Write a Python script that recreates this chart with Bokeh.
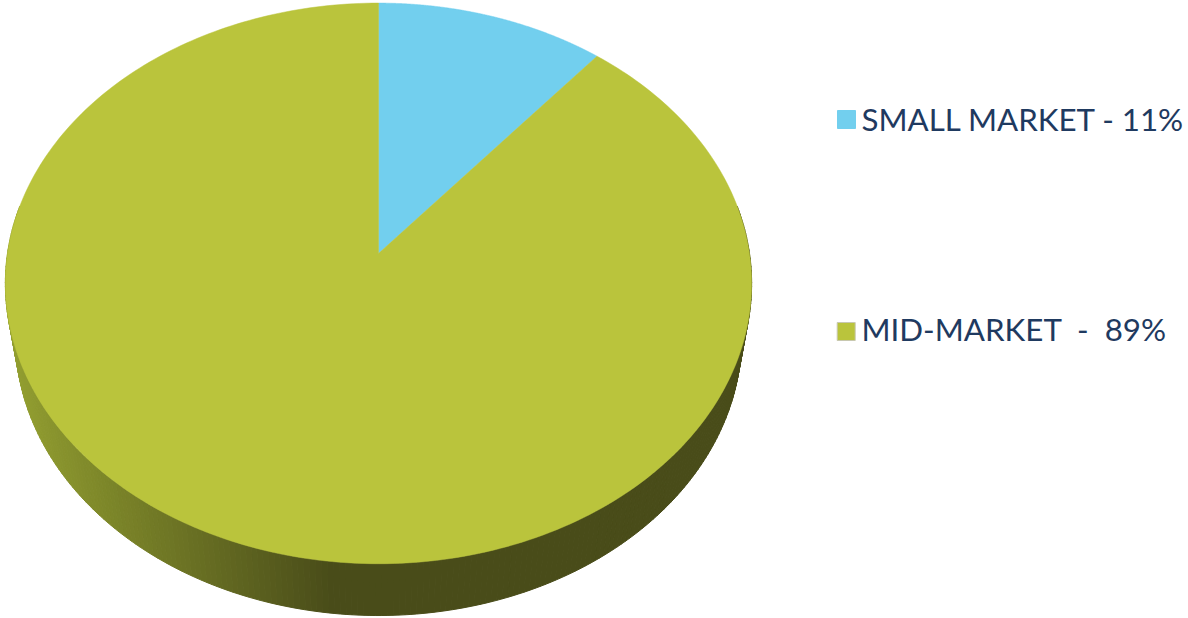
import numpy as np
from bokeh.plotting import figure
from bokeh.models import Range1d
from bokeh.core.properties import value
from bokeh.embed import file_html
from bokeh.resources import INLINE

# ---- data ----
categories = ["SMALL MARKET", "MID-MARKET"]
shares = [11, 89]
legend_labels = ["SMALL MARKET - 11%", "MID-MARKET\u00a0 -\u00a0 89%"]
top_colors = ["#72CFEE", "#BAC43C"]

W, H = 1188, 618

# ---- perspective projection of a tilted disk (screen px) ----
CX, CY = 378.0, 253.0
K = 371.0
SIN_P, COS_P = 0.747, 0.665
RD = 0.1604
THICK = 0.2276


def proj(theta, yn):
    X = np.sin(theta)
    Z = np.cos(theta)
    up = yn * COS_P + Z * SIN_P
    depth = 1.0 + RD * (Z * COS_P - yn * SIN_P)
    return CX + K * X / depth, CY - K * up / depth


p = figure(width=W, height=H, x_range=Range1d(0, W), y_range=Range1d(H, 0),
           output_backend="svg", toolbar_location=None, min_border=0)
p.axis.visible = False
p.grid.visible = False
p.outline_line_color = None
p.background_fill_color = "white"
p.border_fill_color = "white"

# angles of slices (clockwise from 12 o'clock)
total = float(sum(shares))
bounds = np.concatenate([[0.0], np.cumsum(shares) / total * 2 * np.pi])

# ---- side wall (front part), shaded by x ----
light = np.array([146, 158, 48])
dark = np.array([73, 76, 25])
ths = np.linspace(np.radians(80), np.radians(280), 240)
xs_w, ys_w, cols = [], [], []
for a, b in zip(ths[:-1], ths[1:]):
    tx0, ty0 = proj(a, 0.0)
    tx1, ty1 = proj(b, 0.0)
    bx1, by1 = proj(b, -THICK)
    bx0, by0 = proj(a, -THICK)
    xm = 0.5 * (tx0 + tx1)
    f = np.clip((xm - 10) / (330 - 10), 0, 1)
    c = light + (dark - light) * f
    col = "#%02x%02x%02x" % tuple(int(round(v)) for v in c)
    xs_w.append([tx0, tx1, bx1, bx0])
    ys_w.append([ty0, ty1, by1, by0])
    cols.append(col)
p.patches(xs_w, ys_w, fill_color=cols, line_color=cols, line_width=1)

# ---- top faces ----
for i, cat in enumerate(categories):
    th = np.linspace(bounds[i], bounds[i + 1], 300)
    ex, ey = proj(th, 0.0)
    px = np.concatenate([[CX], ex])
    py = np.concatenate([[CY], ey])
    p.patch(px, py, fill_color=top_colors[i], line_color=top_colors[i], line_width=0.5)

# ---- legend ----
leg_x = [846.0, 845.7]
leg_y = [119.0, 331.0]
text_base = [118.0, 328.5]
p.rect(x=leg_x, y=leg_y, width=18, height=18, fill_color=top_colors,
       line_color=[top_colors[0], "#c8c8b0"], line_width=1)
p.text(x=[861.0, 861.0], y=text_base, text=legend_labels,
       text_font=value("Lato"), text_font_size="31.3px", text_color="#1F3A60",
       text_baseline="alphabetic", text_align="left")

open("out.html", "w").write(file_html(p, INLINE))
